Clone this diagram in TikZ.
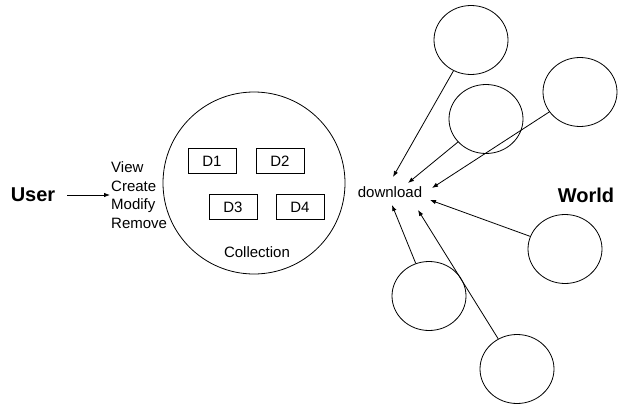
\documentclass[tikz,border=0pt]{standalone}
\usepackage{fontspec}
\setmainfont{Liberation Sans}
\usetikzlibrary{arrows.meta,shapes.geometric}

\tikzset{
    txt/.style={font=\fontsize{15}{18.7}\selectfont, inner sep=1pt},
    bigtxt/.style={font=\fontsize{20}{24}\selectfont\bfseries, inner sep=1pt},
    docbox/.style={draw, line width=0.8pt, minimum width=48pt, minimum height=25pt, inner sep=0pt, font=\fontsize{15}{18}\selectfont},
    site/.style={draw, ellipse, line width=0.8pt, minimum width=74pt, minimum height=69pt, inner sep=0pt},
    pull/.style={line width=0.8pt, -{Latex[length=6pt,width=4.5pt]}}
}

\begin{document}
\begin{tikzpicture}[x=1pt, y=-1pt]

    \useasboundingbox (0,0) rectangle (621,404);

    % User side and the operations on the collection
    \node[bigtxt] (user) at (33,195) {User};
    \node[txt, anchor=west, align=left] (ops) at (110,195) {View\\Create\\Modify\\Remove};
    \draw[pull] ([xshift=11pt]user.east) -- (ops.west);

    % --- COLLECTION (big circle with documents) ---
    \node[draw, circle, line width=0.8pt, minimum size=182pt, inner sep=0pt] (coll) at (254,183) {};
    \node[docbox] (d1) at (212,161) {D1};
    \node[docbox] (d2) at (280,161) {D2};
    \node[docbox] (d3) at (233,207) {D3};
    \node[docbox] (d4) at (300,207) {D4};
    \node[txt] (colllabel) at (257,252) {Collection};

    % Download label and the world
    \node[txt] (down) at (390,192) {download};
    \node[bigtxt] (world) at (586,195) {World};

    % --- SITES OUT IN THE WORLD ---
    \node[site] (w1) at (471,40) {};
    \node[site] (w2) at (486,119) {};
    \node[site] (w3) at (580,92) {};
    \node[site] (w4) at (565,249) {};
    \node[site] (w5) at (429,296) {};
    \node[site] (w6) at (517,369) {};

    % Arrow ends round the download label
    \coordinate (t1) at (393,177);
    \coordinate (t2) at (408,183);
    \coordinate (t3) at (432,188);
    \coordinate (t4) at (430,200);
    \coordinate (t5) at (392,205);
    \coordinate (t6) at (418,210);

    \draw[pull] (w1) -- (t1);
    \draw[pull] (w2) -- (t2);
    \draw[pull] (w3) -- (t3);
    \draw[pull] (w4) -- (t4);
    \draw[pull] (w5) -- (t5);
    \draw[pull] (w6) -- (t6);

\end{tikzpicture}
\end{document}
